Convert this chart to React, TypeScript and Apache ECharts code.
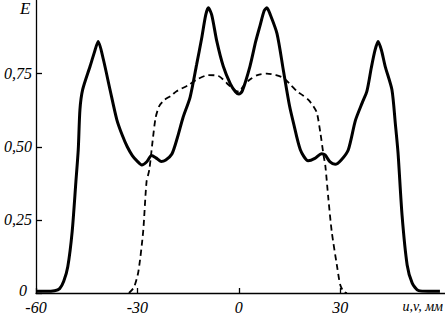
import React, { useEffect, useRef } from "react";
import * as echarts from "echarts";

const xTicks = [-60, -30, 0, 30];
const yTicks = [0, 0.25, 0.5, 0.75];

const solidX = [-60, -57, -54.5, -53, -51.8, -50.6, -49.3, -48.2, -47.5, -47, -46.2, -44, -42.8, -41.6, -40.1, -38.1, -36.1, -34.5, -33, -31.5, -30, -28.7, -27.3, -25.8, -24.5, -23, -21.6, -19.8, -18.2, -16.5, -14.4, -12.5, -11, -9.8, -9, -8, -6.5, -4.6, -2.5, -1, 0, 1, 3.3, 5, 6.3, 7.5, 8.3, 9.2, 11.3, 13.2, 15, 16.2, 18.2, 20.5, 22.5, 24.5, 25.5, 27, 28.5, 30.3, 32.4, 34.5, 36.5, 37.9, 39.2, 40.3, 41.2, 42.2, 43.3, 45.3, 46.3, 47.1, 48.3, 49.8, 51.3, 53.2, 56, 59.5];
const solidY = [0.006, 0.006, 0.008, 0.015, 0.04, 0.09, 0.21, 0.38, 0.49, 0.627, 0.695, 0.775, 0.82, 0.86, 0.8, 0.695, 0.593, 0.54, 0.5, 0.47, 0.45, 0.438, 0.448, 0.47, 0.462, 0.45, 0.455, 0.475, 0.53, 0.6, 0.67, 0.78, 0.87, 0.95, 0.975, 0.95, 0.86, 0.775, 0.715, 0.688, 0.68, 0.69, 0.775, 0.86, 0.915, 0.965, 0.975, 0.955, 0.887, 0.76, 0.64, 0.58, 0.49, 0.452, 0.46, 0.476, 0.472, 0.448, 0.44, 0.455, 0.49, 0.59, 0.65, 0.69, 0.77, 0.83, 0.86, 0.83, 0.775, 0.695, 0.58, 0.48, 0.265, 0.096, 0.034, 0.008, 0.006, 0.006];

const dashedX = [-32.5, -31, -29.7, -28.3, -27.3, -26.5, -25.5, -24.6, -23.5, -22, -20, -18.4, -15, -12.4, -9, -6, -3.6, -1.5, 0, 1.5, 3.3, 5.5, 8.3, 11, 13.2, 15.5, 17.2, 19, 20.6, 22.1, 23.1, 24.1, 25.1, 25.6, 26.5, 27.5, 29, 30, 31, 32];
const dashedY = [0, 0.02, 0.074, 0.21, 0.38, 0.42, 0.52, 0.6, 0.64, 0.66, 0.675, 0.69, 0.71, 0.73, 0.745, 0.742, 0.718, 0.695, 0.688, 0.71, 0.73, 0.745, 0.75, 0.745, 0.735, 0.71, 0.69, 0.675, 0.66, 0.638, 0.616, 0.55, 0.469, 0.435, 0.322, 0.209, 0.096, 0.028, 0.005, 0];

const FONT = "Liberation Serif";

export default function App() {
  const ref = useRef<HTMLDivElement>(null);
  useEffect(() => {
    if (!ref.current) return;
    const chart = echarts.init(ref.current, null, { renderer: "svg" });
    const txt = { fontFamily: FONT, fontStyle: "italic", fontSize: 16, color: "#000" };
    chart.setOption({
      animation: false,
      backgroundColor: "#fff",
      textStyle: { fontFamily: FONT, fontStyle: "italic" },
      grid: { left: 36, right: 0, top: 0.5, bottom: 19.5 },
      xAxis: {
        type: "value",
        min: -60,
        max: 61,
        interval: 30,
        axisLine: { show: true, onZero: false, lineStyle: { color: "#000", width: 1.3 } },
        axisTick: { show: true, inside: true, length: 5, customValues: xTicks, lineStyle: { color: "#000", width: 1.3 } },
        axisLabel: {
          ...txt,
          margin: 6,
          customValues: xTicks,
          formatter: (v: number) => "{a|" + String(v) + "}",
          rich: { a: { ...txt } },
        },
        splitLine: { show: false },
      },
      yAxis: {
        type: "value",
        min: 0,
        max: 1,
        interval: 0.25,
        axisLine: { show: true, onZero: false, lineStyle: { color: "#000", width: 1.3 } },
        axisTick: { show: true, inside: true, length: 6, customValues: yTicks, lineStyle: { color: "#000", width: 1.3 } },
        axisLabel: {
          ...txt,
          margin: 4,
          customValues: yTicks,
          formatter: (v: number) => (v === 0 ? "{z|0}" : "{a|" + v.toFixed(2).replace(".", ",") + "}"),
          rich: {
            a: { ...txt },
            z: { ...txt, padding: [0, 5, 6, 0] },
          },
        },
        splitLine: { show: false },
      },
      graphic: [
        { type: "text", left: 20, top: 0, style: { text: "E", fontFamily: FONT, fontStyle: "italic", fontSize: 17, fill: "#000" } },
        { type: "text", right: 2, top: 299, style: { text: "u,v, мм", fontFamily: FONT, fontStyle: "italic", fontSize: 14, fill: "#000" } },
      ],
      series: [
        {
          type: "line",
          data: solidX.map((x, i) => [x, solidY[i]]),
          showSymbol: false,
          smooth: 0.25,
          lineStyle: { color: "#000", width: 3 },
        },
        {
          type: "line",
          data: dashedX.map((x, i) => [x, dashedY[i]]),
          showSymbol: false,
          smooth: 0.25,
          lineStyle: { color: "#000", width: 1.8, type: [6, 4] },
        },
      ],
    });
    return () => chart.dispose();
  }, []);
  return <div ref={ref} style={{ position: "absolute", left: 0, top: 0, width: 445, height: 315 }} />;
}
